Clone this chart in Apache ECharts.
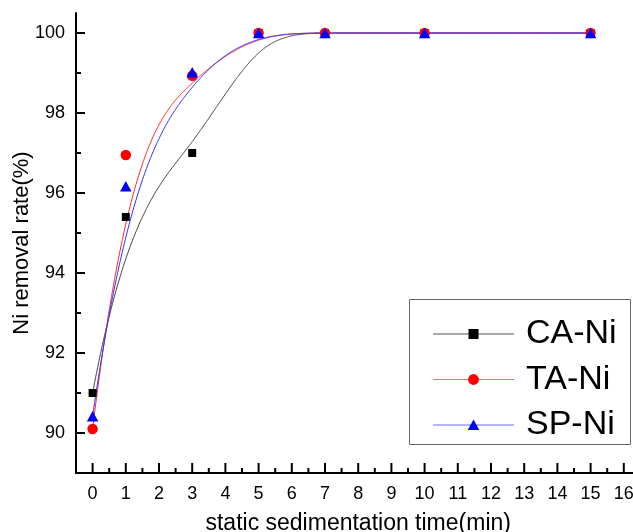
<!DOCTYPE html>
<html>
<head>
<meta charset="utf-8">
<script src="https://cdn.jsdelivr.net/npm/echarts@6/dist/echarts.min.js"></script>
<style>
  html, body { margin: 0; padding: 0; background: #fff; }
  #chart { width: 633px; height: 532px; }
</style>
</head>
<body>
<div id="chart"></div>
<script>
// Sedimentation time (min) and Ni removal rate (%) for each sample
const timeMin = [0, 1, 3, 5, 7, 10, 15];
const caNi = [91.0, 95.4, 97.0, 100, 100, 100, 100];
const taNi = [90.1, 96.95, 98.93, 100, 100, 100, 100];
const spNi = [90.42, 96.17, 99.02, 100, 100, 100, 100];

// Axis ticks and labels
const xMajorTicks = [0, 1, 2, 3, 4, 5, 6, 7, 8, 9, 10, 11, 12, 13, 14, 15, 16];
const xMinorTicks = [0.5, 1.5, 2.5, 3.5, 4.5, 5.5, 6.5, 7.5, 8.5, 9.5, 10.5, 11.5, 12.5, 13.5, 14.5, 15.5];
const yMajorTicks = [90, 92, 94, 96, 98, 100];
const yMinorTicks = [91, 93, 95, 97, 99];

const X_MIN = -0.5, X_MAX = 16.5, Y_MIN = 89, Y_MAX = 100.5;
const FONT = '"Liberation Sans", Arial, sans-serif';

const groups = [
  { name: 'CA-Ni', values: caNi, symbol: 'rect', size: 8, mark: '#000000', line: '#444444', legendLine: '#555555' },
  { name: 'TA-Ni', values: taNi, symbol: 'circle', size: 10.5, mark: '#ff0000', line: '#ff2a2a', legendLine: '#ff6a6a' },
  { name: 'SP-Ni', values: spNi, symbol: 'triangle', size: [11.5, 10.5], mark: '#0000ff', line: '#3030ff', legendLine: '#6a6aff' }
];

// Clamped uniform cubic B-spline over the control polygon (first/last points are hit)
function clampedBSpline(ctrl, samples) {
  const n = ctrl.length, p = 3, m = n - p;
  const knots = [];
  for (let i = 0; i <= p; i++) knots.push(0);
  for (let i = 1; i < m; i++) knots.push(i);
  for (let i = 0; i <= p; i++) knots.push(m);
  const out = [];
  for (let s = 0; s <= samples; s++) {
    const t = m * s / samples;
    let k = p;
    while (k < n - 1 && t >= knots[k + 1]) k++;
    const d = [];
    for (let j = 0; j <= p; j++) d.push(ctrl[k - p + j].slice());
    for (let r = 1; r <= p; r++) {
      for (let j = p; j >= r; j--) {
        const i = k - p + j;
        const den = knots[i + p - r + 1] - knots[i];
        const a = den === 0 ? 0 : (t - knots[i]) / den;
        d[j] = [(1 - a) * d[j - 1][0] + a * d[j][0], (1 - a) * d[j - 1][1] + a * d[j][1]];
      }
    }
    out.push(d[p]);
  }
  return out;
}

const curveSeries = groups.map((g, gi) => ({
  type: 'custom',
  name: 'curve-' + g.name,
  coordinateSystem: 'cartesian2d',
  z: 2 + gi * 0.1,
  silent: true,
  clip: true,
  data: timeMin.map((x, i) => [x, g.values[i]]),
  renderItem: function (params, api) {
    if (params.dataIndex !== 0) return null;
    const ctrl = timeMin.map((x, i) => api.coord([x, g.values[i]]));
    return {
      type: 'polyline',
      shape: { points: clampedBSpline(ctrl, 400) },
      style: { stroke: g.line, lineWidth: 1, fill: null }
    };
  }
}));

const markerSeries = groups.map((g, gi) => ({
  type: 'scatter',
  name: g.name,
  z: 5 + gi,
  data: timeMin.map((x, i) => [x, g.values[i]]),
  symbol: g.symbol,
  symbolSize: g.size,
  itemStyle: { color: g.mark, opacity: 1 },
  emphasis: { disabled: true },
  animation: false
}));

// Inward tick marks on the bottom and left axes, drawn as filled bars through the grid scales
const tickSeries = {
  type: 'custom',
  name: 'axis-ticks',
  coordinateSystem: 'cartesian2d',
  z: 10,
  silent: true,
  clip: false,
  data: [[timeMin[0], caNi[0]]],
  renderItem: function (params, api) {
    const children = [];
    const style = { fill: '#000', stroke: null };
    xMajorTicks.map(v => [v, 10]).concat(xMinorTicks.map(v => [v, 5])).forEach(function (t) {
      const p = api.coord([t[0], Y_MIN]);
      children.push({ type: 'rect', shape: { x: p[0] - 1, y: p[1] - t[1], width: 2, height: t[1] }, style: style });
    });
    yMajorTicks.map(v => [v, 9]).concat(yMinorTicks.map(v => [v, 5])).forEach(function (t) {
      const p = api.coord([X_MIN, t[0]]);
      children.push({ type: 'rect', shape: { x: p[0], y: p[1] - 1, width: t[1], height: 2 }, style: style });
    });
    return { type: 'group', children: children };
  }
};

const axisBlack = { color: '#000', width: 2 };

const option = {
  animation: false,
  backgroundColor: '#ffffff',
  grid: { left: 76, top: 13, width: 564.4, height: 460, containLabel: false, outerBoundsMode: 'none' },
  xAxis: {
    type: 'value', min: X_MIN, max: X_MAX, position: 'bottom',
    name: 'static sedimentation time(min)',
    nameLocation: 'middle', nameGap: 39, nameMoveOverlap: false,
    nameTextStyle: { fontFamily: FONT, fontSize: 23, color: '#000' },
    axisLine: { show: true, onZero: false, lineStyle: axisBlack },
    axisTick: { show: false },
    axisLabel: { show: true, customValues: xMajorTicks, margin: 12, fontFamily: FONT, fontSize: 18, color: '#000' },
    splitLine: { show: false }
  },
  yAxis: {
    type: 'value', min: Y_MIN, max: Y_MAX, position: 'left',
    name: 'Ni removal rate(%)',
    nameLocation: 'middle', nameGap: 43, nameMoveOverlap: false,
    nameTextStyle: { fontFamily: FONT, fontSize: 22, color: '#000' },
    axisLine: { show: true, onZero: false, lineStyle: axisBlack },
    axisTick: { show: false },
    axisLabel: { show: true, customValues: yMajorTicks, margin: 11, fontFamily: FONT, fontSize: 18, color: '#000' },
    splitLine: { show: false }
  },
  series: curveSeries.concat(markerSeries).concat([tickSeries])
};

const chart = echarts.init(document.getElementById('chart'), null, { renderer: 'canvas' });
chart.setOption(option);

// Legend box
const LEG = { left: 409, top: 299, width: 221, height: 145, rows: [334, 379.5, 425], lineX1: 433, lineX2: 514, textX: 526 };
const legendGraphics = [{
  type: 'rect', silent: true, z: 40,
  shape: { x: LEG.left + 0.5, y: LEG.top + 0.5, width: LEG.width, height: LEG.height },
  style: { fill: '#fff', stroke: '#666', lineWidth: 1 }
}];
groups.forEach((g, i) => {
  const cy = LEG.rows[i];
  const cx = (LEG.lineX1 + LEG.lineX2) / 2;
  legendGraphics.push({ type: 'line', z: 41, silent: true, shape: { x1: LEG.lineX1, y1: cy, x2: LEG.lineX2, y2: cy }, style: { stroke: g.legendLine, lineWidth: 1 } });
  let sym;
  if (g.symbol === 'rect') {
    sym = { type: 'rect', shape: { x: cx - 5, y: cy - 5, width: 10, height: 10 } };
  } else if (g.symbol === 'circle') {
    sym = { type: 'circle', shape: { cx: cx, cy: cy, r: 5.4 } };
  } else {
    sym = { type: 'polygon', shape: { points: [[cx, cy - 5.5], [cx + 5.8, cy + 5], [cx - 5.8, cy + 5]] } };
  }
  sym.z = 42; sym.silent = true; sym.style = { fill: g.mark };
  legendGraphics.push(sym);
  legendGraphics.push({ type: 'text', z: 42, silent: true, x: LEG.textX, y: cy, style: { text: g.name, fontFamily: FONT, fontSize: 34, fill: '#000', verticalAlign: 'middle', align: 'left' } });
});

chart.setOption({ graphic: legendGraphics });
</script>
</body>
</html>
